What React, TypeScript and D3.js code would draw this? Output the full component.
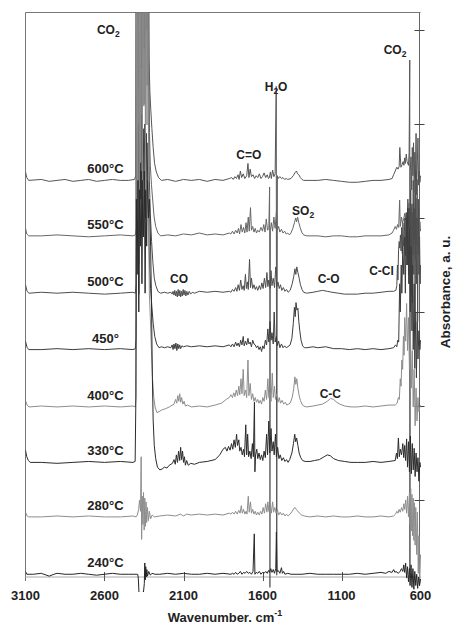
import React from "react";
import * as d3 from "d3";

type Pt = [number, number];

// Wavenumber ticks (cm-1) and absorbance ticks (a.u. x100)
const WN_TICKS = [3100, 2600, 2100, 1600, 1100, 600];
const ABS_TICKS = [100, 200, 300, 400, 500, 600];

const TEMPS = ["600°C", "550°C", "500°C", "450°", "400°C", "330°C", "280°C", "240°C"];
const OFFSETS = [440, 381, 320, 260, 199, 140, 82, 21];
const COLORS = ["#555", "#666", "#4d4d4d", "#3c3c3c", "#8d8d8d", "#2b2b2b", "#8d8d8d", "#262626"];

const s600: Pt[] = [
  [3100, 9], [3092, 3], [3080, 0], [3000, 1], [2950, -1], [2900, 0], [2850, 1], [2800, -1], [2750, 0], [2700, 1], [2650, -1], [2600, 0], [2550, 1], [2500, 0], [2450, 0], [2410, 1],
  [2402, 5], [2397, 700], [2392, 40], [2387, 700], [2382, 100], [2377, 700], [2372, 160], [2367, 700], [2362, 120], [2357, 700], [2352, 220], [2347, 700], [2342, 260], [2337, 700], [2332, 180], [2327, 700], [2322, 300], [2318, 130],
  [2313, 95], [2307, 75], [2300, 55], [2292, 35], [2283, 18], [2272, 9], [2258, 3], [2240, 0], [2200, 1], [2150, -1], [2100, 1], [2050, 0], [2000, 1], [1950, -1], [1900, 1], [1850, 0], [1810, 2],
  [1795, 3], [1785, 1], [1775, 4], [1765, 2], [1755, 6], [1748, 1], [1740, 10], [1732, 3], [1722, 7], [1712, 2], [1700, 5], [1692, 18], [1686, 3], [1678, 12], [1670, 4], [1660, 6], [1650, 2], [1640, 5], [1630, 3], [1620, 7], [1610, 2], [1600, 4], [1590, 8], [1580, 3], [1570, 6], [1562, 2], [1556, 3], [1550, 9], [1544, 2], [1536, 11], [1528, 4], [1520, 7], [1513, 100], [1510, -420], [1506, 5], [1500, 2], [1490, 4], [1480, 2], [1470, 3], [1460, 1], [1450, 2], [1440, 1],
  [1420, 2], [1405, 5], [1395, 8], [1385, 10], [1378, 7], [1370, 6], [1360, 3], [1350, 1], [1340, 0],
  [1300, 0], [1250, 0], [1200, 1], [1150, 0], [1100, -1], [1050, -2], [1000, -2], [950, -1], [900, 0], [850, 0], [800, 1], [780, 2], [770, 6], [760, 10], [750, 14], [742, 12], [735, 15], [731, 35], [724, 14], [716, 17], [710, 20], [705, 16], [700, 24], [696, 18], [690, 28], [685, 20], [676, 16], [672, 30], [668, 128], [667, -415], [665, 10], [660, 25], [656, -10], [652, 35], [648, 5], [644, 40], [640, -12], [636, 30], [632, 0], [628, 50], [625, -15], [620, 20], [616, 45], [612, -5], [608, 10], [604, -2], [600, 5],
];

const s550: Pt[] = [
  [3100, 8], [3092, 2], [3080, 0], [3000, 0], [2900, 1], [2800, 0], [2700, -1], [2600, 0], [2500, 1], [2420, 0], [2405, 1],
  [2400, 8], [2395, 700], [2390, 80], [2385, 700], [2380, 150], [2375, 700], [2370, 60], [2365, 700], [2360, 200], [2355, 700], [2350, 140], [2345, 700], [2340, 250], [2335, 700], [2330, 160], [2325, 700], [2320, 220], [2315, 110],
  [2310, 75], [2303, 55], [2295, 38], [2286, 20], [2276, 10], [2262, 3], [2245, 0], [2200, 1], [2150, 0], [2100, 2], [2050, 1], [2000, 3], [1950, 1], [1900, 2], [1850, 1], [1810, 3],
  [1800, 2], [1790, 5], [1780, 2], [1770, 6], [1760, 3], [1752, 8], [1745, 2], [1736, 12], [1728, 4], [1720, 9], [1712, 3], [1704, 14], [1698, 4], [1690, 20], [1684, 5], [1676, 30], [1670, 6], [1662, 10], [1654, 4], [1646, 8], [1638, 3], [1630, 6], [1620, 4], [1610, 9], [1600, 5], [1592, 12], [1584, 4], [1576, 18], [1568, 6], [1560, 8], [1555, 52], [1553, -374], [1550, 6], [1544, 14], [1536, 5], [1528, 20], [1520, 8], [1512, 25], [1506, 6], [1498, 10], [1490, 4], [1480, 7], [1470, 3], [1460, 5], [1450, 2], [1440, 3], [1430, 1],
  [1420, 3], [1408, 8], [1398, 14], [1390, 19], [1384, 15], [1378, 20], [1370, 14], [1362, 9], [1352, 4], [1340, 1], [1320, 0],
  [1250, 0], [1200, -1], [1150, 0], [1100, 0], [1050, -1], [1000, -1], [950, 0], [900, 0], [850, 0], [800, 1], [780, 3], [770, 6], [760, 10], [752, 7], [745, 12], [738, 9], [732, 38], [728, 10], [720, 20], [714, 14], [706, 18], [700, 24], [694, 17], [690, 25], [684, 15], [680, 30], [676, 10], [672, 35], [668, 20], [664, -15], [660, 30], [656, -10], [652, 25], [648, -20], [644, 35], [640, -5], [636, 50], [632, -25], [628, 40], [624, -10], [620, 60], [616, -20], [612, 30], [608, 0], [604, 15], [600, 5],
];

const s500: Pt[] = [
  [3100, 9], [3090, 2], [3078, 0], [3000, 1], [2900, 0], [2800, 1], [2700, 0], [2600, -1], [2500, 0], [2420, 1], [2405, 0],
  [2400, 10], [2396, 700], [2391, 120], [2386, 700], [2381, 60], [2376, 700], [2371, 180], [2366, 700], [2361, 100], [2356, 700], [2351, 260], [2346, 700], [2341, 200], [2336, 700], [2331, 280], [2326, 700], [2321, 180], [2316, 120],
  [2310, 85], [2302, 55], [2294, 33], [2285, 16], [2275, 8], [2262, 2], [2245, 0], [2220, 1], [2200, 0], [2180, 1],
  [2172, -1], [2166, 2], [2160, -2], [2155, 3], [2149, -3], [2144, 2], [2139, -4], [2134, 4], [2128, -3], [2123, 3], [2118, -4], [2113, 2], [2108, -3], [2102, 4], [2097, -2], [2091, 3], [2085, -3], [2079, 2], [2072, -2], [2064, 2], [2055, -1], [2045, 1], [2030, 0], [2000, 2], [1950, 1], [1900, 2], [1850, 1], [1810, 2],
  [1800, 1], [1790, 4], [1780, 2], [1770, 6], [1762, 2], [1754, 9], [1746, 3], [1738, 14], [1730, 4], [1722, 8], [1716, 3], [1708, 20], [1702, 5], [1696, 12], [1690, 4], [1682, 36], [1676, 6], [1670, 16], [1662, 5], [1654, 9], [1646, 4], [1638, 7], [1630, 3], [1620, 8], [1612, 4], [1604, 11], [1596, 5], [1588, 16], [1580, 6], [1572, 22], [1566, 7], [1560, 14], [1552, 5], [1546, 24], [1540, 8], [1532, 16], [1524, 6], [1516, 28], [1510, 7], [1502, 12], [1494, 5], [1486, 9], [1478, 3], [1468, 6], [1458, 2], [1448, 4], [1438, 1],
  [1425, 3], [1412, 10], [1402, 18], [1395, 26], [1389, 20], [1383, 28], [1376, 22], [1368, 16], [1360, 9], [1350, 4], [1340, 1], [1320, 0],
  [1280, 1], [1250, 2], [1220, 3], [1190, 2], [1160, 1], [1120, 0], [1080, -1], [1040, -1], [1000, -1], [950, 0], [900, 0], [850, 1], [800, 2], [770, 2], [756, 3], [750, 8], [746, 30], [743, 14], [739, 45], [735, 55], [731, 48], [727, 62], [723, 45], [719, 70], [715, 42], [711, 75], [707, 50], [703, 60], [699, 80], [695, 40], [690, 85], [686, 30], [680, 100], [676, 20], [670, 90], [666, 10], [662, 110], [658, 0], [654, 95], [650, -10], [646, 120], [642, 20], [638, 90], [634, -20], [630, 130], [626, 10], [622, 80], [618, -30], [614, 100], [610, 20], [606, 60], [602, 10], [600, 30],
];

const s450: Pt[] = [
  [3100, 9], [3090, 2], [3078, 0], [3000, 0], [2900, 1], [2800, 0], [2700, 1], [2600, 0], [2500, 1], [2420, 0], [2405, 1],
  [2400, 12], [2395, 230], [2390, 120], [2385, 240], [2380, 90], [2375, 220], [2370, 160], [2365, 250], [2360, 120], [2355, 235], [2350, 180], [2345, 240], [2340, 140], [2335, 230], [2330, 170], [2325, 220], [2320, 130], [2315, 90],
  [2308, 65], [2300, 45], [2292, 28], [2282, 14], [2270, 6], [2255, 2], [2240, 3], [2220, 2], [2200, 3],
  [2180, 2], [2172, 5], [2166, 0], [2160, 6], [2154, 1], [2148, 7], [2142, -1], [2136, 6], [2130, 1], [2124, 5], [2118, 1], [2110, 4], [2100, 3], [2080, 4], [2050, 3], [2000, 4], [1950, 3], [1900, 4], [1850, 3], [1810, 5],
  [1800, 3], [1790, 6], [1780, 3], [1770, 8], [1762, 4], [1754, 7], [1746, 3], [1738, 10], [1730, 5], [1722, 14], [1716, 4], [1708, 9], [1700, 5], [1692, 12], [1686, 6], [1678, 8], [1670, 3], [1662, 10], [1654, 6], [1646, 5], [1638, 2], [1630, 4], [1622, 0], [1614, 3], [1606, -2], [1598, 4], [1590, 1], [1582, 10], [1574, 5], [1566, 22], [1560, 8], [1552, 30], [1546, 10], [1540, 18], [1532, 6], [1526, 40], [1520, 8], [1512, 14], [1506, 4], [1498, 9], [1490, 2], [1480, 6], [1470, 2], [1460, 4], [1450, 2], [1440, 3],
  [1425, 5], [1414, 12], [1405, 28], [1398, 45], [1393, 35], [1388, 50], [1382, 42], [1376, 44], [1370, 30], [1364, 20], [1356, 10], [1346, 4], [1335, 2], [1320, 2],
  [1280, 3], [1250, 2], [1200, 3], [1150, 1], [1100, 1], [1050, 0], [1000, 1], [950, 0], [900, 1], [850, 0], [800, 1], [770, 2], [758, 5], [750, 3], [744, 10], [738, 8], [732, 70], [728, 40], [722, 90], [718, 60], [712, 110], [706, 80], [700, 120], [696, 60], [690, 140], [684, 90], [680, 150], [674, 70], [670, 130], [664, 40], [660, 110], [654, 20], [650, 90], [646, 0], [640, 70], [636, -20], [630, 40], [626, -30], [620, 30], [616, -10], [610, 20], [604, 0], [600, 10],
];

const s400: Pt[] = [
  [3100, 7], [3090, 2], [3078, 0], [3000, 1], [2900, 0], [2800, 1], [2700, 0], [2600, 1], [2500, 0], [2420, 1], [2405, 0],
  [2400, 10], [2396, 700], [2391, 200], [2386, 700], [2381, 120], [2376, 700], [2371, 260], [2366, 700], [2361, 180], [2356, 700], [2351, 320], [2346, 700], [2341, 230], [2336, 700], [2331, 300], [2326, 700], [2321, 200], [2316, 120],
  [2310, 95], [2303, 60], [2296, 30], [2288, 10], [2280, 0], [2268, -6], [2255, -5], [2235, -3], [2215, -2], [2190, 0],
  [2160, 3], [2150, 8], [2143, 4], [2136, 12], [2130, 6], [2124, 14], [2118, 5], [2112, 10], [2104, 3], [2096, 6], [2088, 1], [2075, 2], [2050, 0], [2000, 1], [1950, 0], [1900, 2], [1860, 4], [1830, 8],
  [1810, 10], [1800, 13], [1790, 10], [1782, 15], [1774, 11], [1766, 18], [1758, 12], [1750, 22], [1744, 13], [1736, 30], [1730, 14], [1722, 40], [1716, 12], [1708, 18], [1700, 10], [1692, 50], [1686, 12], [1678, 25], [1670, 8], [1662, 14], [1654, 6], [1646, 10], [1638, 5], [1630, 8], [1622, 4], [1614, 7], [1606, 3], [1598, 10], [1590, 6], [1582, 18], [1574, 8], [1566, 30], [1560, 10], [1552, 16], [1546, 6], [1538, 36], [1532, 10], [1524, 22], [1518, 8], [1510, 14], [1502, 5], [1494, 10], [1486, 4], [1476, 7], [1466, 3], [1456, 5], [1446, 2], [1436, 3],
  [1425, 4], [1412, 10], [1402, 20], [1395, 32], [1389, 24], [1383, 30], [1376, 20], [1368, 12], [1360, 7], [1350, 3], [1340, 1], [1320, 0],
  [1280, 1], [1250, 2], [1220, 3], [1190, 6], [1170, 9], [1150, 8], [1130, 5], [1110, 3], [1080, 1], [1040, 0], [1000, 0], [950, 1], [900, 0], [850, 1], [800, 2], [760, 2], [748, 4], [740, 10], [734, 8], [728, 30], [723, 22], [718, 50], [713, 40], [708, 75], [704, 55], [700, 95], [694, 70], [688, 110], [682, 60], [676, 95], [670, 40], [664, 80], [658, 20], [652, 60], [646, 0], [640, 40], [634, -20], [628, 20], [622, -15], [616, 10], [610, -5], [604, 0], [600, 2],
];

const s330: Pt[] = [
  [3100, 13], [3092, 6], [3082, 2], [3070, 0], [3000, 0], [2900, -1], [2800, 0], [2700, 1], [2600, 0], [2500, 1], [2420, 0], [2406, 1],
  [2402, 60], [2398, 280], [2393, 200], [2388, 300], [2383, 160], [2378, 290], [2373, 230], [2368, 310], [2363, 190], [2358, 300], [2353, 240], [2348, 310], [2343, 180], [2338, 290], [2333, 230], [2328, 300], [2322, 260], [2316, 280], [2308, 230],
  [2302, 160], [2297, 90], [2292, 45], [2285, 18], [2276, 4], [2265, -5], [2250, -8], [2235, -7], [2220, -5], [2205, -6], [2190, -3],
  [2170, -1], [2160, 3], [2152, -2], [2145, 8], [2138, 0], [2131, 12], [2124, 2], [2118, 16], [2112, 3], [2106, 12], [2100, 0], [2094, 6], [2088, -3], [2080, 2], [2070, -3], [2055, -1], [2030, -2], [2000, 0], [1950, 1], [1900, 3], [1870, 8], [1850, 14], [1835, 16],
  [1825, 12], [1815, 17], [1805, 13], [1796, 20], [1788, 14], [1780, 24], [1772, 16], [1764, 30], [1758, 18], [1750, 24], [1744, 12], [1736, 16], [1728, 8], [1720, 14], [1714, 6], [1706, 40], [1700, 8], [1694, 30], [1688, 6], [1680, 12], [1672, 4], [1664, 20], [1658, 6], [1651, 64], [1648, -10], [1644, 8], [1636, 14], [1630, 4], [1622, 10], [1614, 3], [1606, 8], [1598, 2], [1590, 12], [1582, 5], [1574, 30], [1568, 8], [1560, 44], [1554, 10], [1546, 36], [1540, 12], [1532, 22], [1526, 8], [1518, 30], [1512, 6], [1504, 16], [1496, 4], [1488, 8], [1478, 2], [1468, 5], [1458, 1], [1448, 3], [1438, 0],
  [1428, 3], [1414, 10], [1404, 20], [1396, 30], [1390, 22], [1384, 26], [1376, 18], [1368, 10], [1358, 5], [1346, 2], [1330, 1],
  [1300, 1], [1270, 2], [1240, 3], [1210, 6], [1190, 8], [1170, 7], [1150, 4], [1120, 2], [1080, 1], [1040, 0], [1000, 0], [950, 0], [900, 1], [850, 0], [800, 1], [760, 2], [752, 10], [746, 4], [740, 26], [734, 6], [728, 14], [720, 8], [712, 20], [706, 5], [700, 18], [694, 2], [688, 25], [682, -5], [676, 22], [670, -10], [664, 28], [658, -12], [652, 20], [646, -8], [640, 15], [634, -15], [628, 10], [622, -10], [616, 5], [610, -20], [604, 0], [600, -5],
];

const s280: Pt[] = [
  [3100, 5], [3090, 1], [3080, 0], [3000, 0], [2900, 1], [2800, 0], [2700, 1], [2600, 0], [2500, 0], [2420, 1], [2400, 0],
  [2392, 2], [2384, 8], [2378, 18], [2372, 6], [2368, 64], [2365, -24], [2361, 22], [2357, -8], [2353, 26], [2349, -14], [2345, 20], [2341, -10], [2337, 16], [2333, -6], [2328, 10], [2322, -4], [2316, 6], [2308, -2], [2298, 2], [2285, 0],
  [2250, 1], [2200, 2], [2150, 1], [2120, 3], [2100, 1], [2080, 3], [2050, 2], [2000, 3], [1950, 2], [1900, 3], [1850, 2], [1810, 4],
  [1800, 3], [1790, 5], [1780, 3], [1770, 6], [1760, 3], [1750, 7], [1742, 4], [1734, 12], [1728, 4], [1720, 8], [1712, 3], [1704, 6], [1698, 3], [1690, 22], [1684, 5], [1676, 16], [1670, 4], [1662, 8], [1654, 3], [1646, 6], [1638, 2], [1630, 5], [1620, 2], [1612, 6], [1604, 3], [1596, 10], [1588, 4], [1580, 14], [1572, 5], [1566, 16], [1560, 6], [1550, 12], [1544, 4], [1536, 16], [1530, 5], [1522, 10], [1514, 4], [1506, 8], [1498, 2], [1488, 5], [1478, 2], [1468, 4], [1458, 1], [1448, 3], [1438, 1],
  [1425, 3], [1412, 6], [1402, 9], [1394, 10], [1386, 8], [1376, 6], [1366, 4], [1352, 2], [1335, 1], [1300, 0],
  [1250, 1], [1200, 0], [1150, 1], [1100, 0], [1050, 0], [1000, 1], [950, 0], [900, 0], [850, 1], [800, 0], [770, 1], [758, 3], [750, 6], [742, 4], [736, 8], [728, 5], [720, 10], [712, 6], [706, 14], [700, 8], [694, 18], [688, 4], [682, 22], [676, 0], [670, 26], [666, -8], [662, 30], [658, -15], [654, 24], [650, -20], [646, 20], [642, -25], [638, 15], [634, -30], [630, 10], [624, -40], [620, 5], [614, -60], [610, -20], [605, -70], [600, -40],
];

const s240: Pt[] = [
  [3100, 3], [3092, 0], [3050, 0], [3000, 1], [2950, -2], [2920, 0], [2900, 1], [2850, 0], [2800, 0], [2750, 1], [2700, 0], [2650, -1], [2600, 0], [2550, 1], [2500, 0], [2450, 0], [2400, 0],
  [2390, 0], [2386, -4], [2382, -19], [2372, -20], [2362, -19], [2354, -20], [2348, -10], [2345, 12], [2342, -6], [2339, 8], [2336, -3], [2332, 5], [2328, -2], [2320, 3], [2310, -1], [2300, 1], [2280, 0],
  [2250, 0], [2200, 1], [2150, 0], [2100, 1], [2050, 0], [2000, 0], [1950, 1], [1900, 0], [1850, 1], [1800, 0],
  [1790, 1], [1780, 0], [1770, 2], [1760, 0], [1750, 1], [1740, 3], [1730, 0], [1720, 2], [1710, 1], [1700, 3], [1690, 1], [1680, 2], [1670, 0], [1660, 3], [1652, 43], [1648, 0], [1640, 2], [1630, 1], [1620, 3], [1610, 0], [1600, 2], [1590, 1], [1580, 3], [1570, 1], [1562, 4], [1556, 2], [1548, 6], [1540, 2], [1532, 5], [1524, 1], [1516, 6], [1512, 45], [1508, 3], [1500, 4], [1490, 1], [1480, 7], [1474, 1], [1466, 3], [1458, 0], [1440, 1], [1420, 0],
  [1350, 0], [1300, 1], [1250, 0], [1200, 0], [1150, 0], [1100, 0], [1050, 0], [1000, 1], [950, 0], [900, 1], [850, 2], [820, 1], [800, 3], [780, 2], [770, 5], [762, 2], [755, 3], [740, 1], [730, 3], [720, 6], [712, 3], [706, 10], [700, 2], [694, 12], [688, -4], [682, 8], [676, -8], [670, 6], [666, -12], [660, 10], [654, -14], [648, 6], [642, -16], [636, 3], [630, -12], [624, 0], [618, -15], [612, -3], [606, -12], [600, -5],
];

const SERIES: Pt[][] = [s600, s550, s500, s450, s400, s330, s280, s240];

// Band annotations, placed in data coordinates (wavenumber, absorbance)
const NOTES: { text: string; sub?: string; tail?: string; wn: number; v: number }[] = [
  { text: "CO", sub: "2", wn: 2648, v: 596 },
  { text: "H", sub: "2", tail: "O", wn: 1586, v: 535 },
  { text: "C=O", wn: 1766, v: 463 },
  { text: "CO", sub: "2", wn: 833, v: 575 },
  { text: "SO", sub: "2", wn: 1413, v: 403 },
  { text: "C-O", wn: 1251, v: 331 },
  { text: "C-Cl", wn: 925, v: 339 },
  { text: "CO", wn: 2185, v: 331 },
  { text: "C-C", wn: 1238, v: 208 },
];

const W = 454;
const H = 625;
const LEFT = 25.5;
const RIGHT = 420.5;
const TOP = 12.5;
const BOTTOM = 577;

export default function App() {
  const x = d3.scaleLinear().domain([3100, 600]).range([LEFT, RIGHT]);
  const y = d3.scaleLinear().domain([0, 600]).range([594, 30]);
  const font = "'Liberation Sans', Arial, sans-serif";

  return (
    <svg
      width={W}
      height={H}
      viewBox={`0 0 ${W} ${H}`}
      style={{ position: "absolute", left: 0, top: 0, background: "#fff" }}
    >
      <defs>
        <clipPath id="plotclip">
          <rect x={LEFT} y={TOP} width={RIGHT - LEFT + 0.5} height={592 - TOP} />
        </clipPath>
      </defs>

      {/* frame */}
      <line x1={LEFT} x2={RIGHT} y1={TOP} y2={TOP} stroke="#777" strokeWidth={1} />
      <line x1={LEFT} x2={LEFT} y1={TOP} y2={581} stroke="#777" strokeWidth={1} />
      <line x1={LEFT} x2={RIGHT} y1={BOTTOM} y2={BOTTOM} stroke="#aaa" strokeWidth={1} />
      <line x1={RIGHT - 1} x2={RIGHT - 1} y1={TOP} y2={586} stroke="#666" strokeWidth={1} />

      {/* right axis ticks */}
      {ABS_TICKS.map((t) => (
        <line key={t} x1={RIGHT - 6} x2={RIGHT + 4} y1={Math.round(y(t)) + 0.5} y2={Math.round(y(t)) + 0.5} stroke="#444" strokeWidth={1} />
      ))}

      {/* x ticks */}
      {WN_TICKS.slice(1, -1).map((t) => (
        <line key={t} x1={Math.round(x(t)) + 0.5} x2={Math.round(x(t)) + 0.5} y1={BOTTOM - 5} y2={BOTTOM + 4} stroke="#555" strokeWidth={1} />
      ))}

      {/* spectra */}
      <g clipPath="url(#plotclip)">
        {SERIES.map((s, i) => {
          const line = d3
            .line<Pt>()
            .x((d) => x(d[0]))
            .y((d) => y(d[1] + OFFSETS[i]));
          return (
            <path key={i} d={line(s) || ""} fill="none" stroke={COLORS[i]} strokeWidth={1} strokeLinejoin="miter" />
          );
        })}
      </g>

      {/* temperature labels */}
      {TEMPS.map((t, i) => (
        <text key={t} x={x(2594)} y={y(OFFSETS[i]) - 7} textAnchor="middle" fontFamily={font} fontWeight="bold" fontSize={13} fill="#222">
          {t}
        </text>
      ))}

      {/* band annotations */}
      {NOTES.map((n, i) => (
        <text key={i} x={x(n.wn)} y={y(n.v)} fontFamily={font} fontWeight="bold" fontSize={12} fill="#222">
          {n.text}
          {n.sub && (
            <tspan fontSize={8.5} dy={3}>
              {n.sub}
            </tspan>
          )}
          {n.tail && <tspan dy={-3}>{n.tail}</tspan>}
        </text>
      ))}

      {/* x tick labels */}
      {WN_TICKS.map((t) => (
        <text key={t} x={x(t)} y={600} textAnchor="middle" fontFamily={font} fontWeight="bold" fontSize={13} fill="#222">
          {t}
        </text>
      ))}

      <text x={225} y={622} textAnchor="middle" fontFamily={font} fontWeight="bold" fontSize={13} fill="#222">
        Wavenumber. cm
        <tspan fontSize={9} dy={-6}>-1</tspan>
      </text>

      <text
        transform={`translate(450, 292) rotate(-90)`}
        textAnchor="middle"
        fontFamily={font}
        fontWeight="bold"
        fontSize={13.5}
        fill="#222"
      >
        Absorbance, a. u.
      </text>
    </svg>
  );
}
